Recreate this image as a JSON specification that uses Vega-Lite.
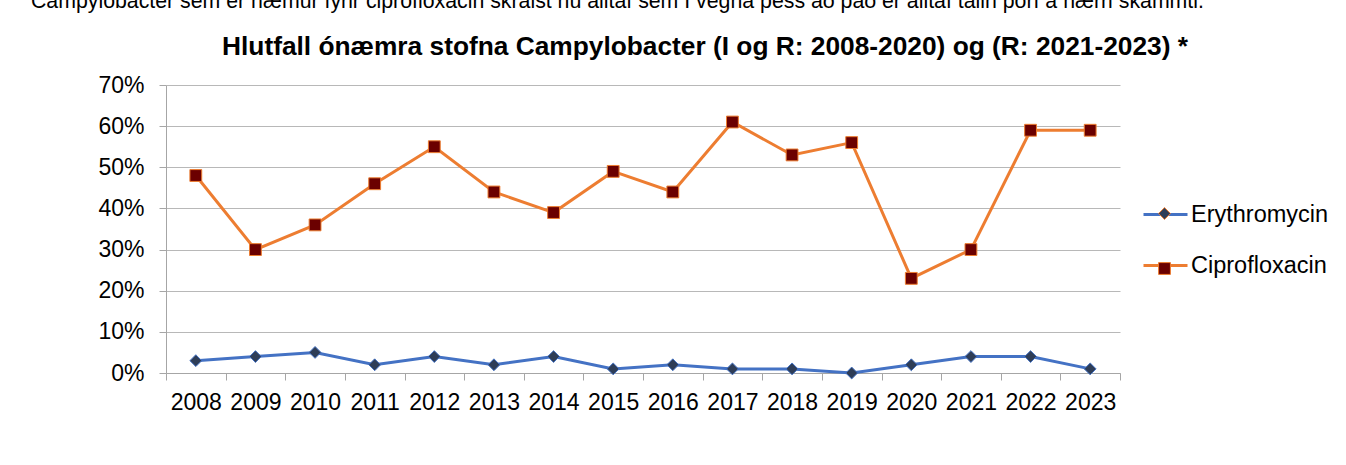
{
  "$schema": "https://vega.github.io/schema/vega-lite/v6.json",
  "padding": {"left": 30, "top": -9, "right": 0, "bottom": 0},
  "background": "white",
  "title": {
    "text": "Campylobacter sem er næmur fyrir ciprofloxacin skráist nú alltaf sem I vegna þess að það er alltaf talin þörf á hærri skammti.",
    "anchor": "start",
    "dx": -67,
    "fontSize": 21.3,
    "fontWeight": "normal",
    "font": "Liberation Sans",
    "color": "#000000",
    "offset": 21
  },
  "vconcat": [
    {
      "width": 954,
      "height": 288,
      "title": {
        "text": "Hlutfall ónæmra stofna Campylobacter (I og R: 2008-2020) og (R: 2021-2023) *",
        "fontSize": 26.3,
        "fontWeight": "bold",
        "font": "Liberation Sans",
        "color": "#000000",
        "anchor": "middle",
        "dx": 62,
        "offset": 14
      },
      "data": {
        "values": [
          {"year": "2008", "series": "Erythromycin", "value": 0.03},
          {"year": "2009", "series": "Erythromycin", "value": 0.04},
          {"year": "2010", "series": "Erythromycin", "value": 0.05},
          {"year": "2011", "series": "Erythromycin", "value": 0.02},
          {"year": "2012", "series": "Erythromycin", "value": 0.04},
          {"year": "2013", "series": "Erythromycin", "value": 0.02},
          {"year": "2014", "series": "Erythromycin", "value": 0.04},
          {"year": "2015", "series": "Erythromycin", "value": 0.01},
          {"year": "2016", "series": "Erythromycin", "value": 0.02},
          {"year": "2017", "series": "Erythromycin", "value": 0.01},
          {"year": "2018", "series": "Erythromycin", "value": 0.01},
          {"year": "2019", "series": "Erythromycin", "value": 0.0},
          {"year": "2020", "series": "Erythromycin", "value": 0.02},
          {"year": "2021", "series": "Erythromycin", "value": 0.04},
          {"year": "2022", "series": "Erythromycin", "value": 0.04},
          {"year": "2023", "series": "Erythromycin", "value": 0.01},
          {"year": "2008", "series": "Ciprofloxacin", "value": 0.48},
          {"year": "2009", "series": "Ciprofloxacin", "value": 0.30},
          {"year": "2010", "series": "Ciprofloxacin", "value": 0.36},
          {"year": "2011", "series": "Ciprofloxacin", "value": 0.46},
          {"year": "2012", "series": "Ciprofloxacin", "value": 0.55},
          {"year": "2013", "series": "Ciprofloxacin", "value": 0.44},
          {"year": "2014", "series": "Ciprofloxacin", "value": 0.39},
          {"year": "2015", "series": "Ciprofloxacin", "value": 0.49},
          {"year": "2016", "series": "Ciprofloxacin", "value": 0.44},
          {"year": "2017", "series": "Ciprofloxacin", "value": 0.61},
          {"year": "2018", "series": "Ciprofloxacin", "value": 0.53},
          {"year": "2019", "series": "Ciprofloxacin", "value": 0.56},
          {"year": "2020", "series": "Ciprofloxacin", "value": 0.23},
          {"year": "2021", "series": "Ciprofloxacin", "value": 0.30},
          {"year": "2022", "series": "Ciprofloxacin", "value": 0.59},
          {"year": "2023", "series": "Ciprofloxacin", "value": 0.59}
        ]
      },
      "encoding": {
        "x": {
          "field": "year",
          "type": "ordinal",
          "scale": {"paddingInner": 0, "paddingOuter": 0},
          "axis": {
            "title": null,
            "labelAngle": 0,
            "tickBand": "extent",
            "grid": false,
            "domainColor": "#a6a6a6",
            "tickColor": "#a6a6a6",
            "tickSize": 7,
            "labelFontSize": 23,
            "labelPadding": 11,
            "labelColor": "#000000",
            "labelFont": "Liberation Sans"
          }
        },
        "y": {
          "field": "value",
          "type": "quantitative",
          "scale": {"domain": [0, 0.7], "nice": false},
          "axis": {
            "title": null,
            "values": [0, 0.1, 0.2, 0.3, 0.4, 0.5, 0.6, 0.7],
            "format": ".0%",
            "grid": true,
            "gridColor": "#b8b8b8",
            "gridWidth": 1,
            "domain": true,
            "domainColor": "#a6a6a6",
            "tickColor": "#a6a6a6",
            "tickSize": 7,
            "labelFontSize": 23,
            "labelPadding": 15,
            "labelColor": "#000000",
            "labelFont": "Liberation Sans"
          }
        }
      },
      "layer": [
        {
          "mark": {"type": "line", "strokeWidth": 3},
          "encoding": {
            "stroke": {
              "field": "series",
              "type": "nominal",
              "scale": {"domain": ["Erythromycin", "Ciprofloxacin"], "range": ["#4472c4", "#ed7d31"]},
              "legend": {
                "orient": "none",
                "legendX": 976,
                "legendY": 106,
                "title": null,
                "symbolType": "stroke",
                "symbolSize": 1936,
                "symbolStrokeWidth": 3,
                "symbolFillColor": "transparent",
                "labelFontSize": 23.5,
                "labelFont": "Liberation Sans",
                "labelColor": "#000000",
                "labelOffset": 2,
                "labelLimit": 400,
                "rowPadding": 16,
                "padding": 0,
                "zindex": 0
              }
            }
          }
        },
        {
          "mark": {"type": "point", "filled": true, "size": 140, "strokeWidth": 1, "opacity": 1},
          "encoding": {
            "fill": {
              "field": "series",
              "type": "nominal",
              "sort": "descending",
              "scale": {"range": ["#2e3d57", "#6b0000"]},
              "legend": {
                "orient": "none",
                "legendX": 992,
                "legendY": 122,
                "title": null,
                "symbolSize": 140,
                "symbolStrokeWidth": 1,
                "symbolOpacity": 1,
                "labelOpacity": 0,
                "labelFontSize": 1,
                "rowPadding": 38,
                "padding": 0,
                "zindex": 1,
                "encode": {"symbols": {"update": {"stroke": {"signal": "datum.value === 'Erythromycin' ? '#4472c4' : '#ed7d31'"}}}}
              }
            },
            "shape": {
              "field": "series",
              "type": "nominal",
              "sort": "descending",
              "scale": {"range": ["diamond", "square"]},
              "legend": {
                "orient": "none",
                "legendX": 992,
                "legendY": 122,
                "title": null,
                "symbolSize": 140,
                "symbolStrokeWidth": 1,
                "symbolOpacity": 1,
                "labelOpacity": 0,
                "labelFontSize": 1,
                "rowPadding": 38,
                "padding": 0,
                "zindex": 1,
                "encode": {"symbols": {"update": {"stroke": {"signal": "datum.value === 'Erythromycin' ? '#4472c4' : '#ed7d31'"}}}}
              }
            },
            "stroke": {
              "condition": {"test": "datum.series === 'Erythromycin'", "value": "#4472c4"},
              "value": "#ed7d31"
            }
          }
        }
      ]
    }
  ],
  "config": {"view": {"stroke": null}, "font": "Liberation Sans"}
}
